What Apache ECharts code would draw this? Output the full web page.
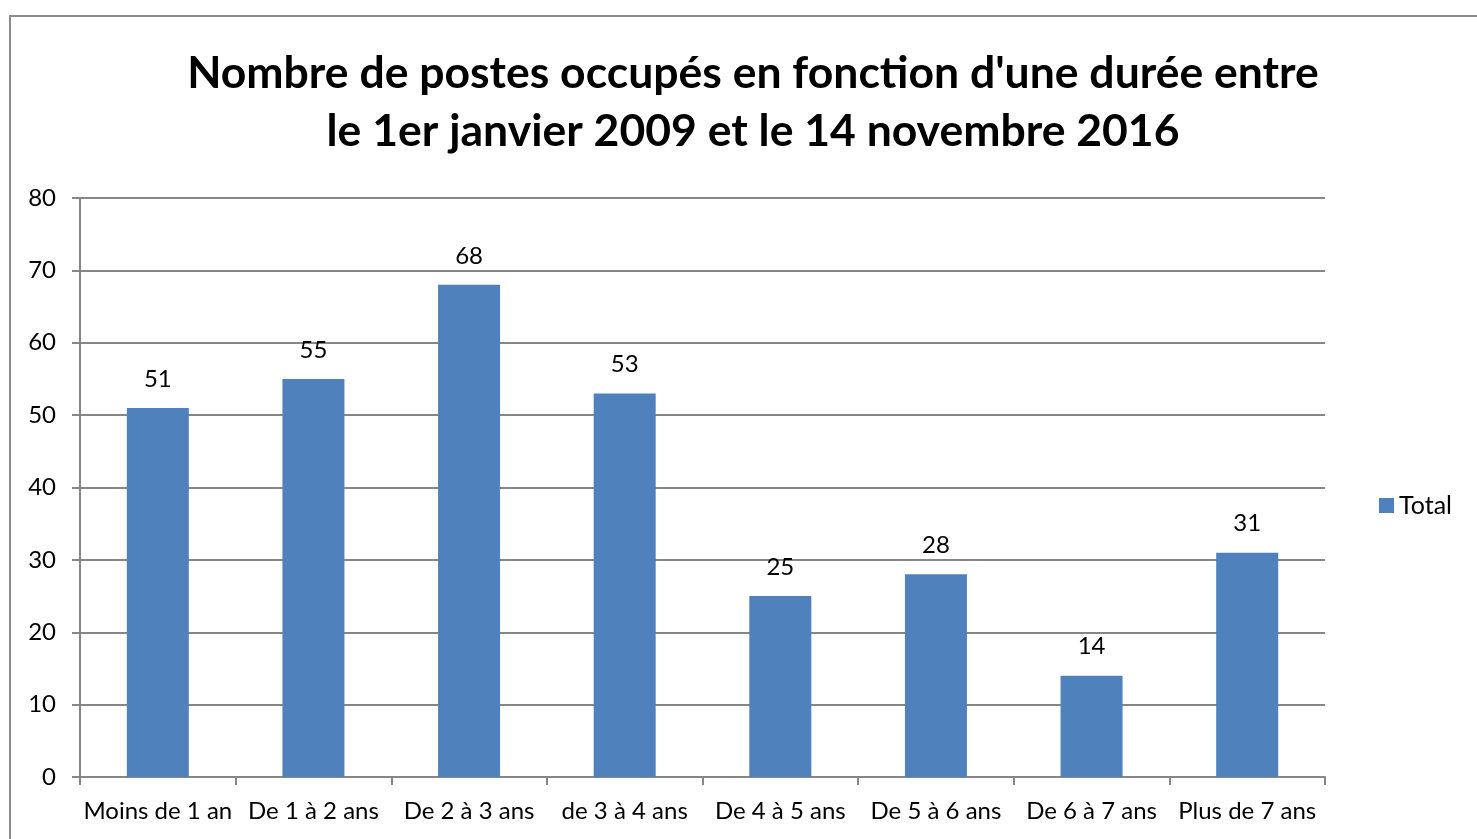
<!DOCTYPE html>
<html>
<head>
<meta charset="utf-8">
<script src="https://cdn.jsdelivr.net/npm/echarts@6/dist/echarts.min.js"></script>
<style>
  html, body { margin: 0; padding: 0; background: #fff; overflow: hidden; }
  #chart { width: 1477px; height: 839px; }
</style>
</head>
<body>
<div id="chart"></div>
<script>
const categories = [
  "Moins de 1 an", "De 1 à 2 ans", "De 2 à 3 ans", "de 3 à 4 ans",
  "De 4 à 5 ans", "De 5 à 6 ans", "De 6 à 7 ans", "Plus de 7 ans"
];
const totals = [51, 55, 68, 53, 25, 28, 14, 31];
const seriesName = "Total";
const titleText = "Nombre de postes occupés en fonction d'une durée entre\nle 1er janvier 2009 et le 14 novembre 2016";

const font = "Lato, 'Open Sans', sans-serif";
const chart = echarts.init(document.getElementById("chart"));

chart.setOption({
  animation: false,
  graphic: [
    {
      type: "rect",
      shape: { x: 10, y: 16, width: 1600, height: 1000 },
      style: { fill: "none", stroke: "#8c8c8c", lineWidth: 2 },
      silent: true,
    },
  ],
  title: {
    text: titleText,
    left: 748,
    top: 40,
    textAlign: "center",
    textStyle: {
      fontFamily: font,
      fontSize: 44.5,
      fontWeight: "bold",
      color: "#000",
      lineHeight: 58,
    },
  },
  legend: {
    data: [seriesName],
    orient: "vertical",
    left: 1374,
    top: 488,
    icon: "rect",
    itemWidth: 15,
    itemHeight: 15,
    itemGap: 7,
    textStyle: { fontFamily: font, fontSize: 25, color: "#000" },
  },
  grid: {
    left: 80,
    right: 152,
    top: 198,
    bottom: 62,
  },
  xAxis: {
    type: "category",
    data: categories,
    axisLine: { lineStyle: { color: "#868686", width: 2 } },
    axisTick: { show: true, length: 8, alignWithLabel: false, lineStyle: { color: "#868686", width: 2 } },
    axisLabel: {
      fontFamily: font,
      fontSize: 24,
      color: "#000",
      margin: 22,
      interval: 0,
    },
  },
  yAxis: {
    type: "value",
    min: 0,
    max: 80,
    interval: 10,
    axisLine: { show: true, lineStyle: { color: "#868686", width: 2 } },
    axisTick: { show: true, length: 8, lineStyle: { color: "#868686", width: 2 } },
    splitLine: { lineStyle: { color: "#868686", width: 2 } },
    axisLabel: {
      fontFamily: font,
      fontSize: 24,
      color: "#000",
      margin: 24,
    },
  },
  series: [
    {
      name: seriesName,
      type: "bar",
      data: totals,
      barWidth: 62,
      itemStyle: { color: "#4F81BD" },
      label: {
        show: true,
        position: "top",
        distance: 17,
        fontFamily: font,
        fontSize: 24,
        color: "#000",
      },
    },
  ],
});
</script>
</body>
</html>
